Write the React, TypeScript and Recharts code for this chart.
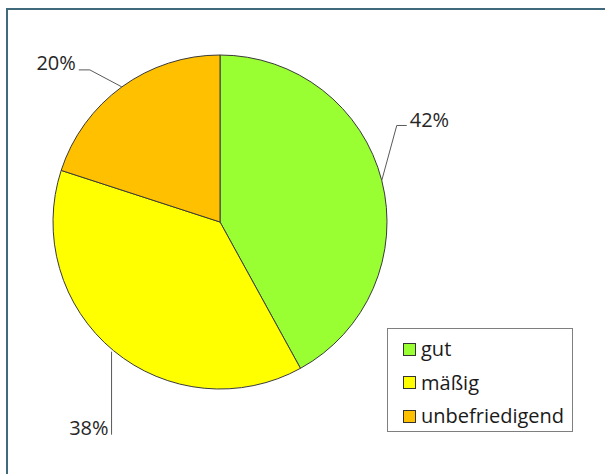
import React from "react";
import { PieChart, Pie, Cell, Legend } from "recharts";

const categories = ["gut", "mäßig", "unbefriedigend"];
const shares = [42, 38, 20];
const colors = ["#99FF33", "#FFFF00", "#FFC000"];

const data = categories.map((name, i) => ({ name, value: shares[i] }));

const RADIAN = Math.PI / 180;
const FONT = "'Open Sans', 'Noto Sans', sans-serif";

// leader line shape per slice: elbow offset from the slice edge, then a short tail
function renderLabel(props: any) {
  const { cx, cy, midAngle, outerRadius, index, value } = props;
  const ex = cx + outerRadius * Math.cos(-midAngle * RADIAN);
  const ey = cy + outerRadius * Math.sin(-midAngle * RADIAN);
  let pts: [number, number][];
  let tx: number;
  let ty: number;
  let anchor: "start" | "end";
  if (index === 0) {
    const bx = ex + 15, by = ey - 55;
    pts = [[ex, ey], [bx, by], [bx + 10, by]];
    tx = bx + 13; ty = by + 2; anchor = "start";
  } else if (index === 1) {
    pts = [[ex - 2, ey + 1], [ex - 2, ey + 84]];
    tx = ex - 5; ty = ey + 84; anchor = "end";
  } else {
    const bx = ex - 32, by = ey - 17;
    pts = [[ex, ey], [bx, by], [bx - 11, by]];
    tx = bx - 14; ty = by; anchor = "end";
  }
  return (
    <g key={`lbl-${index}`}>
      <polyline points={pts.map((p) => p.join(",")).join(" ")} fill="none" stroke="#595959" strokeWidth={1} />
      <text x={tx} y={ty} textAnchor={anchor} fontFamily={FONT} fontSize={20} fill="#262626">
        {`${value}%`}
      </text>
    </g>
  );
}

function renderLegend() {
  return (
    <div
      style={{
        position: "relative",
        width: 186,
        height: 104,
        border: "1px solid #7f7f7f",
        boxSizing: "border-box",
        background: "#fff",
        fontFamily: FONT,
        fontSize: 20,
        color: "#1a1a1a",
      }}
    >
      {categories.map((c, i) => (
        <div
          key={c}
          style={{
            position: "absolute",
            left: 15,
            top: 20 + i * 33.5 - 14,
            height: 28,
            display: "flex",
            alignItems: "center",
            whiteSpace: "nowrap",
          }}
        >
          <span
            style={{
              display: "inline-block",
              width: 13,
              height: 13,
              boxSizing: "border-box",
              border: "1px solid #333",
              background: colors[i],
              marginRight: 5,
            }}
          />
          <span style={{ lineHeight: "28px" }}>{c}</span>
        </div>
      ))}
    </div>
  );
}

export default function App() {
  return (
    <div style={{ position: "absolute", left: 0, top: 0, width: 605, height: 474, overflow: "hidden", background: "#fff" }}>
      <div
        style={{
          position: "absolute",
          left: 6,
          top: 8,
          width: 640,
          height: 500,
          border: "2px solid #41697c",
          boxSizing: "border-box",
        }}
      />
      <div style={{ position: "absolute", left: 0, top: 0 }}>
        <PieChart width={605} height={474} margin={{ top: 0, right: 0, bottom: 0, left: 0 }}>
          <Pie
            data={data}
            dataKey="value"
            nameKey="name"
            cx={220}
            cy={222}
            outerRadius={167}
            startAngle={90}
            endAngle={-270}
            stroke="#3a3a3a"
            strokeWidth={1}
            label={renderLabel}
            labelLine={false}
            isAnimationActive={false}
          >
            {data.map((d, i) => (
              <Cell key={d.name} fill={colors[i]} />
            ))}
          </Pie>
          <Legend
            content={renderLegend}
            wrapperStyle={{ position: "absolute", left: 387, top: 328, width: 186, height: 104 }}
          />
        </PieChart>
      </div>
    </div>
  );
}
